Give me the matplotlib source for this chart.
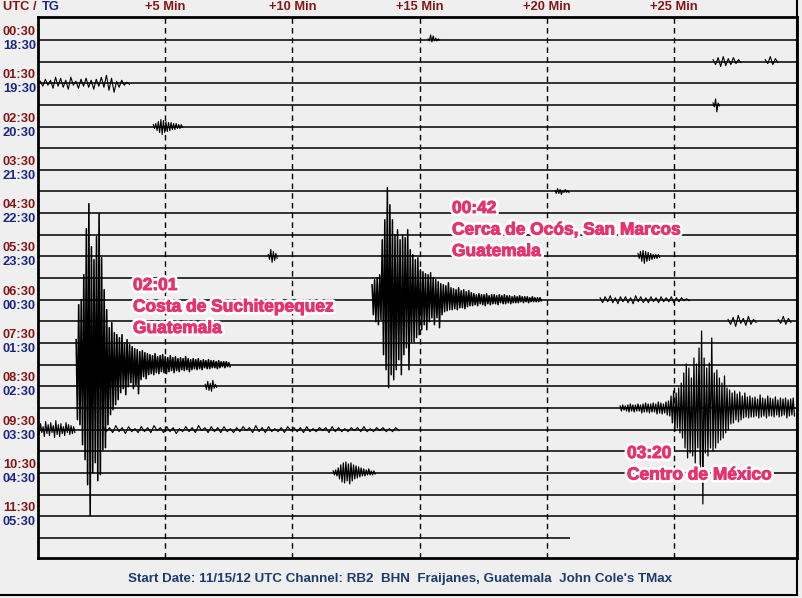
import matplotlib
matplotlib.use("Agg")
import matplotlib.pyplot as plt
import matplotlib.patheffects as pe
from matplotlib.lines import Line2D
from matplotlib.transforms import blended_transform_factory

plt.rcParams['font.family'] = ['Liberation Sans', 'DejaVu Sans']

# ---- data (30 min per line, 24 lines) ----
utc_labels = ["00:30", "01:30", "02:30", "03:30", "04:30", "05:30",
              "06:30", "07:30", "08:30", "09:30", "10:30", "11:30"]
tg_labels = ["18:30", "19:30", "20:30", "21:30", "22:30", "23:30",
             "00:30", "01:30", "02:30", "03:30", "04:30", "05:30"]
n_lines = 24
line_minutes = 29.83
last_line_end = 20.9          # the last line is still being recorded
minute_marks = [5, 10, 15, 20, 25]
minute_labels = ["+5 Min", "+10 Min", "+15 Min", "+20 Min", "+25 Min"]

counts_per_line = 21.65       # amplitude counts that fill one line spacing

# each event: line, start minute, step (min), peak ups, peak downs (counts)
ev_row = [15, 12, 17, 20, 10, 10, 4, 2, 1, 1, 3, 0, 7, 16, 18, 18, 12, 13, 13]
ev_start = [1.50, 13.13, 22.88, 11.60, 9.05, 23.58, 4.53, 0.09, 26.53, 28.58,
            26.53, 15.33, 20.32, 6.57, 0.0, 2.56, 22.09, 27.12, 29.09]
ev_step = [0.1, 0.1, 0.1, 0.1, 0.1, 0.1, 0.1, 0.2, 0.2, 0.2,
           0.1, 0.1, 0.1, 0.1, 0.1, 0.25, 0.2, 0.2, 0.2]
ev_width = [1.15, 1.1, 0.9, 0.9, 0.8, 0.8, 0.8, 0.8, 0.8, 0.8,
            0.8, 0.8, 0.8, 0.8, 0.8, 0.8, 0.8, 0.8, 0.8]
ev_up = [
    # 02:01 Costa de Suchitepequez
    [25, 60, 65, 90, 136, 161, 118, 105, 128, 151, 107, 75, 55, 37, 42, 32, 30, 27, 30, 22,
     25, 20, 18, 16, 15, 13, 14, 12, 11,
     10, 9, 11, 8, 9, 10, 8, 7, 9, 7, 8, 6, 7, 6, 8, 6, 5, 6, 5, 6, 4, 5, 4, 5, 4, 4, 3, 4, 3, 3, 3, 2],
    # 00:42 Cerca de Ocos
    [15, 20, 22, 25, 60, 80, 112, 95, 80, 65, 70, 60, 65, 62, 70, 50, 45, 40, 42, 30,
     28, 26, 25, 27, 22, 20, 18, 16, 15, 14, 17, 12, 11, 10, 12, 9, 10, 8, 9, 7,
     6, 5, 6, 5, 5, 6, 4, 5, 5, 4, 5, 4, 5, 4, 4, 3, 4, 3, 4, 3, 3, 3, 2, 3, 2, 2, 2],
    # 03:20 Centro de Mexico
    [2, 3, 2, 3, 4, 3, 3, 4, 3, 4, 5, 4, 4, 5, 4, 6, 5, 4, 6, 7,
     12, 17, 15, 20, 25, 35, 44, 40, 30, 50, 44, 60, 77, 50, 40, 45, 70, 35, 38, 30,
     25, 32, 20, 18, 15, 17, 14, 16, 12, 15, 11, 12, 10, 11, 9, 13, 10, 9, 12, 10,
     9, 11, 8, 10, 9, 10, 8, 9, 10],
    [2, 3, 5, 8, 10, 11, 9, 10, 8, 7, 6, 5, 4, 3, 4, 2, 2],
    [2, 7, 5, 3],
    [3, 5, 6, 5, 4, 3, 2, 2, 2],
    [2, 3, 5, 7, 6, 5, 4, 4, 3, 3, 2, 2],
    [2, 4, 3, 6, 5, 3, 6, 2, 4, 5, 3, 4, 6, 8, 5, 2, 3, 1],
    [2, 4, 5, 3, 4, 2],
    [2, 5, 3],
    [2, 6, 2],
    [1, 5, 4, 2, 1],
    [1, 3, 2, 1, 2, 1],
    [2, 5, 3, 6, 2],
    [4, 6, 3, 8, 5, 7, 4, 9, 5, 6, 3, 7, 5, 4, 3],
    [3, 2, 4, 2, 3, 1, 3, 2, 4, 2, 3, 2, 1, 3, 2, 4, 2, 3, 2, 3, 1, 2, 3, 2, 4,
     2, 3, 1, 2, 3, 2, 2, 3, 1, 2, 2, 3, 2, 1, 2, 2, 3, 1, 2, 2, 1, 2],
    [2, 3, 4, 2, 3, 3, 2, 4, 3, 2, 3, 2, 3, 2, 3, 2, 2, 1],
    [2, 4, 6, 3, 5, 2],
    [2, 5, 3],
]
ev_down = [
    [55, 60, 80, 95, 120, 151, 108, 98, 116, 110, 85, 83, 60, 50, 45, 40, 35, 28, 24, 30,
     22, 18, 24, 20, 29, 15, 12, 14, 10,
     9, 10, 8, 9, 7, 8, 9, 7, 6, 8, 6, 7, 5, 6, 5, 7, 5, 4, 5, 4, 5, 3, 4, 4, 3, 3, 4, 3, 2, 3, 2, 2],
    [15, 22, 25, 20, 55, 70, 88, 75, 80, 70, 60, 75, 55, 48, 70, 42, 42, 38, 35, 30,
     25, 30, 22, 18, 25, 18, 28, 15, 12, 11, 10, 10, 9, 10, 8, 8, 9, 7, 6, 6,
     5, 6, 4, 5, 6, 4, 5, 4, 4, 5, 3, 4, 4, 3, 4, 3, 3, 3, 2, 3, 2, 3, 2, 2, 2, 2, 1],
    [3, 2, 3, 4, 3, 4, 3, 3, 5, 4, 4, 5, 4, 4, 6, 5, 6, 5, 7, 8,
     15, 23, 20, 25, 30, 40, 50, 45, 48, 55, 40, 65, 96, 45, 48, 40, 43, 40, 35, 32,
     30, 25, 22, 16, 15, 12, 14, 12, 10, 9, 10, 9, 9, 8, 10, 9, 8, 10, 8, 8,
     9, 7, 9, 8, 7, 10, 8, 7, 8],
    [2, 3, 6, 9, 10, 8, 11, 8, 6, 5, 4, 3, 3, 2, 2, 2, 1],
    [3, 6, 4, 2],
    [2, 5, 7, 5, 4, 3, 2, 2, 1],
    [2, 4, 6, 8, 6, 5, 4, 3, 3, 2, 2, 1],
    [3, 2, 5, 3, 4, 6, 2, 5, 3, 4, 6, 3, 4, 7, 9, 4, 2, 1],
    [3, 5, 4, 3, 2, 1],
    [2, 3, 1],
    [2, 7, 1],
    [1, 2, 1, 1, 0],
    [2, 2, 3, 1, 1, 1],
    [3, 4, 5, 2, 1],
    [5, 3, 7, 4, 6, 3, 8, 5, 7, 4, 6, 3, 5, 4, 3],
    [2, 3, 2, 4, 2, 3, 2, 3, 1, 3, 2, 4, 2, 2, 3, 1, 3, 2, 3, 2, 3, 2, 1, 3, 2,
     3, 2, 2, 3, 1, 2, 3, 2, 2, 1, 3, 2, 2, 2, 1, 2, 2, 2, 1, 2, 2, 1],
    [3, 2, 3, 4, 2, 3, 4, 2, 3, 3, 2, 3, 2, 2, 3, 2, 1, 1],
    [3, 5, 2, 4, 3, 1],
    [2, 3, 1],
]

notes = [["02:01", "Costa de Suchitepequez", "Guatemala"],
         ["00:42", "Cerca de Ocós, San Marcos", "Guatemala"],
         ["03:20", "Centro de México"]]
caption = "Start Date: 11/15/12 UTC Channel: RB2  BHN  Fraijanes, Guatemala  John Cole's TMax"

# ---- figure ----
W, H = 803, 598
bg = "#efefef"
utc_col = "#841515"
tg_col = "#1b2584"
pink = "#e8326c"

fig = plt.figure(figsize=(W / 100, H / 100), dpi=100, facecolor=bg)
ax = fig.add_axes([38 / W, 1 - 558 / H, (797 - 38) / W, (558 - 17) / H])
ax.set_facecolor(bg)
ax.set_xlim(0, line_minutes)
ax.set_ylim(23.93, -1.06)
ax.set_xticks([])
ax.set_yticks([])
for s in ax.spines.values():
    s.set_linewidth(2)
    s.set_color("black")

for m in minute_marks:
    ax.axvline(m, color="black", lw=1, linestyle=(0, (4, 3)), zorder=1)

# baselines
for r in range(n_lines):
    end = last_line_end if r == n_lines - 1 else line_minutes
    ax.hlines(r, 0, end, color="black", lw=1.1, zorder=2)

# events drawn as zigzag between the read peaks
for row, t0, dt, lw, ups, downs in zip(ev_row, ev_start, ev_step, ev_width, ev_up, ev_down):
    xs, ys = [], []
    for i, (u, d) in enumerate(zip(ups, downs)):
        xs += [t0 + i * dt, t0 + (i + 0.5) * dt]
        ys += [row - u / counts_per_line, row + d / counts_per_line]
    ax.plot(xs, ys, color="black", lw=lw, zorder=3)

# left labels
tr = blended_transform_factory(fig.transFigure, ax.transData)
for h, (u, t) in enumerate(zip(utc_labels, tg_labels)):
    ax.text(3 / W, 2 * h - 0.37, u, transform=tr, color=utc_col, fontsize=9.3,
            fontweight="bold", ha="left", va="center", clip_on=False)
    ax.text(3 / W, 2 * h + 0.28, t, transform=tr, color=tg_col, fontsize=9.3,
            fontweight="bold", ha="left", va="center", clip_on=False)

# top labels
fig.text(3 / W, 1 - 7 / H, "UTC /", color=utc_col, fontsize=9.3, fontweight="bold", va="center")
fig.text(42 / W, 1 - 7 / H, "TG", color=tg_col, fontsize=9.3, fontweight="bold", va="center")
trx = blended_transform_factory(ax.transData, fig.transFigure)
for m, lab in zip(minute_marks, minute_labels):
    ax.text(m, 1 - 7 / H, lab, transform=trx, color=utc_col, fontsize=9.3,
            fontweight="bold", ha="center", va="center", clip_on=False)

# annotations
glow = [pe.SimplePatchShadow(offset=(1.2, -1.2), shadow_rgbFace="0.45", alpha=0.45),
        pe.Stroke(linewidth=4.5, foreground="white"),
        pe.Stroke(linewidth=0.7, foreground=pink), pe.Normal()]
note_pos = [(133, 290), (452, 213), (627, 458)]
for lines, (px, py) in zip(notes, note_pos):
    for j, txt in enumerate(lines):
        fig.text(px / W, 1 - (py + 21.5 * j) / H, txt, color=pink, fontsize=12.5,
                 fontweight="bold", ha="left", va="baseline", path_effects=glow, zorder=5)

fig.text(400 / W, 1 - 579 / H, caption, color="#1d3c6e", fontsize=9.6, fontweight="bold",
         ha="center", va="center")

# outer frame
fig.add_artist(Line2D([0, 797 / W], [1 - 595 / H] * 2, transform=fig.transFigure, color="black", lw=1.5))
fig.add_artist(Line2D([797 / W] * 2, [1 - 595 / H, 1], transform=fig.transFigure, color="black", lw=1.5))

fig.savefig("out.png", dpi=100, facecolor=bg)
